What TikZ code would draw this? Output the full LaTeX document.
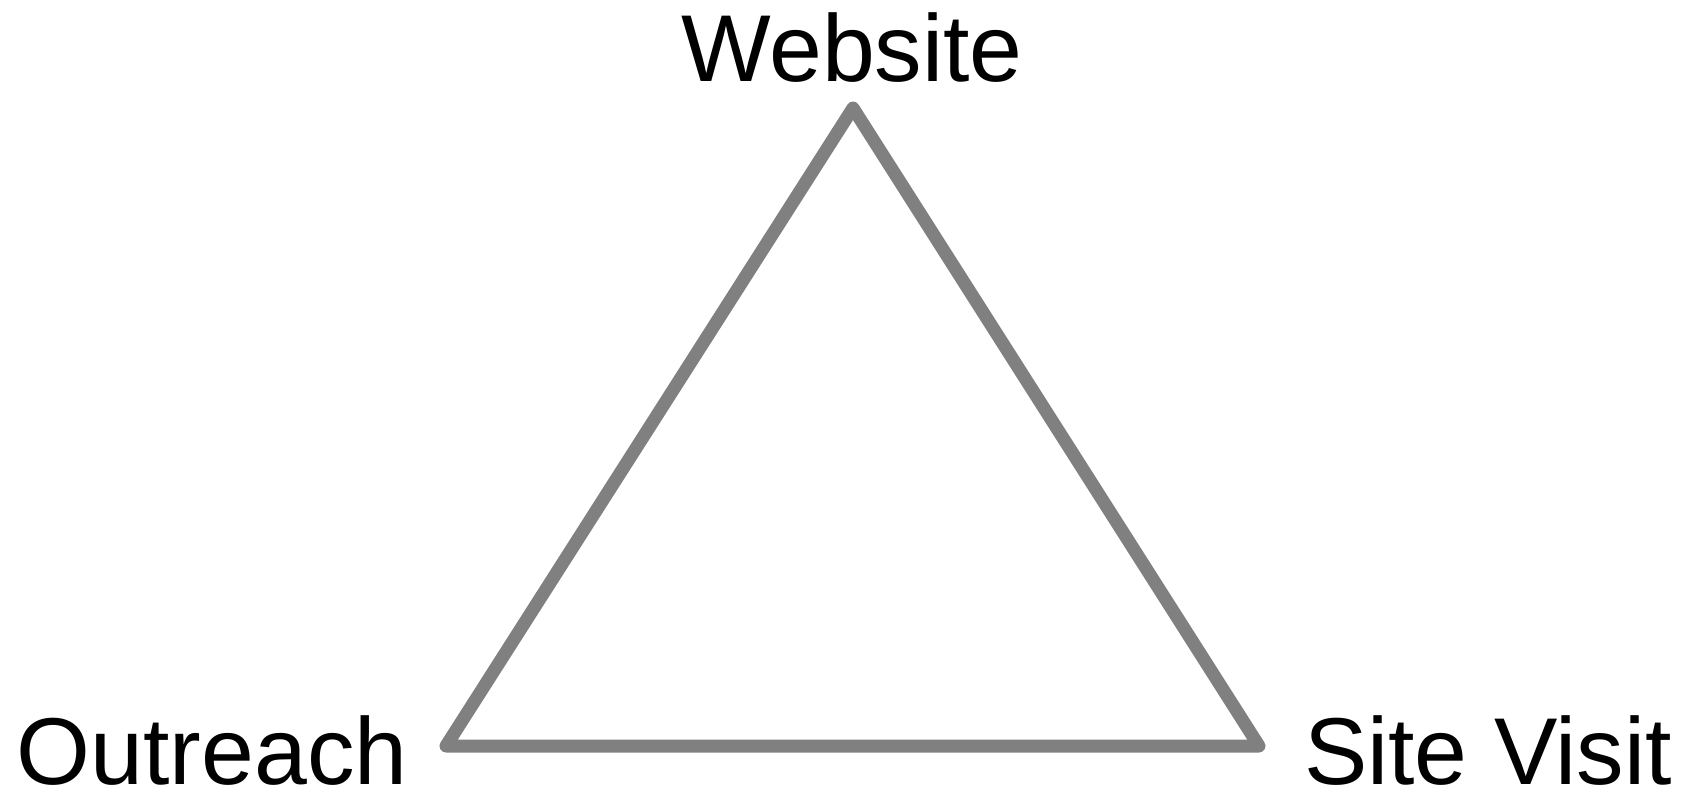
\documentclass[tikz,border=0pt]{standalone}
\usepackage{fontspec}
\setmainfont{Liberation Sans}
\definecolor{edgegray}{HTML}{808080}
\begin{document}
\begin{tikzpicture}[x=1pt,y=-1pt,
  lbl/.style={anchor=base, inner sep=0pt, text depth=0pt, font=\fontsize{95}{100}\selectfont},
  tri/.style={draw=edgegray, line width=13pt, line join=round, line cap=round}]
\useasboundingbox (0,0) rectangle (1692,796);
\coordinate (top) at (853,108);
\coordinate (bl) at (446,746);
\coordinate (br) at (1259,746);
\draw[tri] (top) -- (bl) -- (br) -- cycle;
\node[lbl] (web) at (852,81) {Website};
\node[lbl] (out) at (212,784) {Outreach};
\node[lbl] (site) at (1488,784) {Site Visit};
\end{tikzpicture}
\end{document}
